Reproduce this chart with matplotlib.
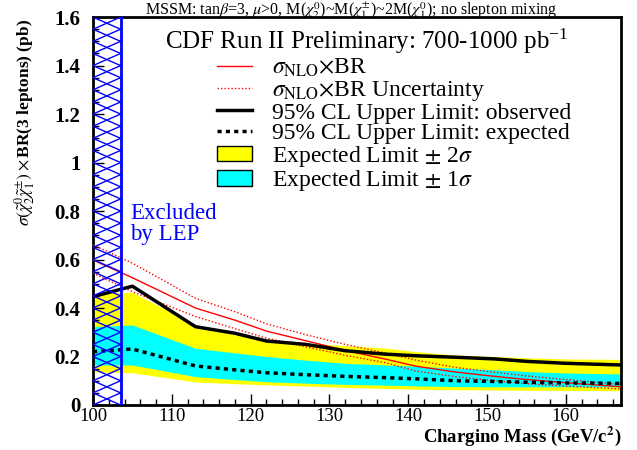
import matplotlib
matplotlib.use("Agg")
import matplotlib.pyplot as plt
from matplotlib.lines import Line2D
from matplotlib.patches import Patch
from matplotlib.ticker import MultipleLocator

plt.rcParams['font.family'] = ['Liberation Serif', 'DejaVu Serif']
plt.rcParams['mathtext.fontset'] = 'stix'

mass = [100, 105, 113, 118, 122, 127, 132, 137, 141, 146, 151, 155, 160, 167]
sigma_nlo = [0.598, 0.525, 0.40, 0.35, 0.305, 0.265, 0.225, 0.19, 0.16, 0.136, 0.118, 0.105, 0.092, 0.075]
sigma_up = [0.66, 0.585, 0.44, 0.385, 0.335, 0.29, 0.25, 0.215, 0.185, 0.155, 0.135, 0.12, 0.105, 0.085]
sigma_dn = [0.544, 0.467, 0.365, 0.315, 0.276, 0.24, 0.205, 0.175, 0.14, 0.117, 0.10, 0.088, 0.078, 0.066]
observed = [0.447, 0.49, 0.323, 0.296, 0.264, 0.25, 0.224, 0.21, 0.203, 0.197, 0.19, 0.18, 0.172, 0.165]
expected = [0.22, 0.231, 0.161, 0.145, 0.133, 0.125, 0.118, 0.113, 0.108, 0.10, 0.097, 0.094, 0.091, 0.089]
band2_hi = [0.46, 0.465, 0.33, 0.29, 0.268, 0.255, 0.245, 0.235, 0.22, 0.206, 0.20, 0.195, 0.19, 0.188]
band2_lo = [0.137, 0.133, 0.095, 0.088, 0.083, 0.078, 0.073, 0.068, 0.065, 0.063, 0.062, 0.061, 0.06, 0.059]
band1_hi = [0.323, 0.33, 0.234, 0.215, 0.20, 0.185, 0.172, 0.165, 0.16, 0.152, 0.145, 0.138, 0.132, 0.128]
band1_lo = [0.165, 0.165, 0.117, 0.105, 0.096, 0.09, 0.085, 0.082, 0.079, 0.076, 0.075, 0.075, 0.075, 0.075]
lep_limit = 103.5
x_min, x_max = 100, 167
y_min, y_max = 0, 1.6
hatch_step = 0.05

fig = plt.figure(figsize=(6.37, 4.5), dpi=100)
ax = fig.add_axes([0.146, 0.1, 0.829, 0.862])

ax.fill_between(mass, band2_lo, band2_hi, color='#ffff00', lw=0, zorder=1)
ax.fill_between(mass, band1_lo, band1_hi, color='#00ffff', lw=0, zorder=2)
ax.plot(mass, sigma_nlo, color='#ff0000', lw=1.0, zorder=3)
ax.plot(mass, sigma_up, color='#ff0000', lw=1.0, ls=(0, (1, 1.5)), zorder=3)
ax.plot(mass, sigma_dn, color='#ff0000', lw=1.0, ls=(0, (1, 1.5)), zorder=3)
ax.plot(mass, observed, color='black', lw=2.5, zorder=4)
ax.plot(mass, expected, color='black', lw=2.5, ls=(0, (1.2, 1.2)), zorder=4)

# LEP excluded region: cross-hatched band
n_steps = int(round((y_max - y_min) / hatch_step))
for k in range(n_steps):
    y0 = y_min + k * hatch_step
    y1 = y0 + hatch_step
    ax.plot([x_min, lep_limit], [y0, y1], color='#0000ff', lw=1.0, zorder=5)
    ax.plot([x_min, lep_limit], [y1, y0], color='#0000ff', lw=1.0, zorder=5)
ax.axvline(lep_limit, color='#0000ff', lw=2.0, zorder=5)

ax.set_xlim(x_min, x_max)
ax.set_ylim(y_min, y_max)
ax.xaxis.set_major_locator(MultipleLocator(10))
ax.xaxis.set_minor_locator(MultipleLocator(2))
ax.yaxis.set_minor_locator(MultipleLocator(0.05))
ax.set_yticks([0, 0.2, 0.4, 0.6, 0.8, 1.0, 1.2, 1.4, 1.6])
ax.set_yticklabels(['0', '0.2', '0.4', '0.6', '0.8', '1', '1.2', '1.4', '1.6'])
ax.tick_params(axis='both', which='major', direction='in', length=8, width=1, labelsize=15)
ax.tick_params(axis='x', which='major', labelsize=13.5, pad=2)
ax.tick_params(axis='y', which='major', pad=9)
ax.tick_params(axis='both', which='minor', direction='in', length=4, width=1)
for lab in ax.get_yticklabels():
    lab.set_fontweight('bold')
for sp in ax.spines.values():
    sp.set_linewidth(2)

fig.text(621 / 637, 1 - 448 / 450, r'Chargino Mass (GeV/c$^{\mathbf{2}}$)', fontsize=13.5,
         fontweight='bold', ha='right', va='bottom')
fig.text(25 / 637, 1 - 122 / 450,
         r'$\sigma(\tilde{\chi}^{0}_{2}\tilde{\chi}^{\pm}_{1})\times$BR(3 leptons) (pb)',
         fontsize=12.5, fontweight='bold', rotation=90, ha='center', va='center')

fig.text(0.551, 0.977,
         r'MSSM: tan$\beta$=3, $\mu$>0, M($\chi^0_2$)~M($\chi^{\pm}_1$)~2M($\chi^0_1$); no slepton mixing',
         fontsize=11.5, ha='center', va='center')
ax.text(0.136, 0.938, r'CDF Run II Preliminary: 700-1000 pb$^{\mathregular{-1}}$', transform=ax.transAxes,
        fontsize=18, ha='left', va='center')
ax.text(104.7, 0.835, 'Excluded\nby LEP', color='#0000ff', fontsize=16.5, ha='left', va='top',
        linespacing=1.0)

handles = [
    Line2D([], [], color='#ff0000', lw=1.0),
    Line2D([], [], color='#ff0000', lw=1.0, ls=(0, (1, 1.5))),
    Line2D([], [], color='black', lw=2.5),
    Line2D([], [], color='black', lw=2.5, ls=(0, (1.2, 1.2))),
    Patch(facecolor='#ffff00', edgecolor='black', lw=1),
    Patch(facecolor='#00ffff', edgecolor='black', lw=1),
]
labels = [r'$\sigma_{\rm NLO}$$\times$BR', r'$\sigma_{\rm NLO}$$\times$BR Uncertainty',
          '95% CL Upper Limit: observed', '95% CL Upper Limit: expected',
          r'Expected Limit $\pm$ 2$\sigma$', r'Expected Limit $\pm$ 1$\sigma$']
leg = ax.legend(handles, labels, loc='upper left', bbox_to_anchor=(0.235, 0.897), frameon=False,
                fontsize=17, handlelength=1.49, handleheight=0.64, handletextpad=0.85, labelspacing=-0.02,
                borderaxespad=0, borderpad=0)

fig.savefig('out.png', dpi=100)
